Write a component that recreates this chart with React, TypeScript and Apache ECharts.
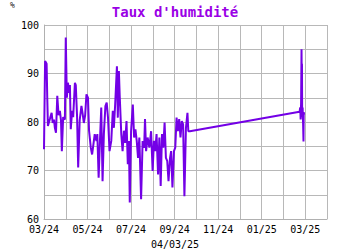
import React, { useEffect, useRef } from "react";
import * as echarts from "echarts";

// x = months since 03/24 (fractional), y = humidity %
const monthLabels = ["03/24","04/24","05/24","06/24","07/24","08/24","09/24","10/24","11/24","12/24","01/25","02/25","03/25","04/25"];

const monthPos = [
  0, 0.05, 0.12, 0.15, 0.18, 0.27, 0.35, 0.40, 0.46, 0.50, 0.55, 0.61, 0.67, 0.73, 0.78, 0.82, 0.88, 0.96,
  1.00, 1.05, 1.10, 1.16, 1.19, 1.23, 1.29, 1.34, 1.42, 1.46, 1.52, 1.57, 1.64, 1.72, 1.77, 1.83, 1.89, 1.95, 2.02, 2.07,
  2.15, 2.21, 2.27, 2.33, 2.41, 2.45, 2.51, 2.57, 2.63, 2.69, 2.75, 2.82, 2.88, 2.94, 3.01, 3.09, 3.16, 3.21, 3.27, 3.35,
  3.39, 3.44, 3.48, 3.55, 3.61, 3.67, 3.73, 3.79, 3.85, 3.90, 3.94,
  4.00, 4.08, 4.14, 4.20, 4.26, 4.32, 4.38, 4.46, 4.53, 4.60, 4.64, 4.69, 4.76, 4.84, 4.92, 4.99, 5.05, 5.11, 5.17, 5.24,
  5.30, 5.36, 5.42, 5.48, 5.54, 5.60, 5.66, 5.72, 5.79, 5.84, 5.90, 5.97, 6.03, 6.09, 6.15, 6.21, 6.27, 6.33, 6.39, 6.45,
  6.52, 6.59, 6.63, 6.70,
  11.74, 11.77, 11.79, 11.81, 11.83, 11.84, 11.85, 11.86, 11.88, 11.90, 11.92, 11.93, 11.95
];

const humidity = [
  74.4, 92.6, 92, 85, 79.2, 80.6, 81.9, 79.8, 80.5, 78.8, 77.8, 85.4, 81.4, 82.3, 80.4, 74, 81, 80.5,
  97.4, 85, 88.1, 86, 87.6, 78.5, 82.3, 81, 88.1, 87.6, 81, 70.6, 80.4, 83.3, 81.9, 79.8, 81.4, 85.7, 85, 78.2,
  74.7, 73.3, 75.4, 77.5, 76.1, 77.5, 68.5, 76.1, 83, 67.8, 77.5, 83.3, 84, 80.9, 74, 76.1, 82.3, 78.8, 83.7, 91.5,
  80.9, 90.5, 85.2, 77.5, 74, 78.2, 75.7, 80.2, 71.3, 76.1, 63.4,
  78.1, 83.6, 76.8, 78.5, 76.1, 72.6, 76.8, 64.1, 76.1, 74.7, 80.6, 74, 76.8, 74.7, 78.1, 69.9, 76.1, 74, 77.5, 69.2,
  76.8, 66.8, 77.5, 74.7, 79.9, 72.6, 72, 67.8, 72.6, 74, 66.5, 74, 74.7, 80.9, 78.1, 80.6, 76.8, 80.2, 79.5, 64.7,
  78.8, 81.9, 78.1, 78.1,
  82.1, 83, 80.5, 84, 95, 88, 92, 81, 83, 80, 76, 82, 81.5
];

const yMin = 60;
const yMax = 100;

export default function App() {
  const ref = useRef<HTMLDivElement>(null);
  useEffect(() => {
    if (!ref.current) return;
    const chart = echarts.init(ref.current, null, { renderer: "svg" });
    const mono = "'DejaVu Sans Mono', monospace";
    chart.setOption({
      animation: false,
      backgroundColor: "#ffffff",
      title: {
        text: "Taux d'humidité",
        left: "center",
        top: 0,
        textStyle: { color: "#9a00e6", fontFamily: mono, fontWeight: "bold", fontSize: 14 },
      },
      graphic: [
        { type: "text", left: 10, top: 1, style: { text: "%", fontFamily: mono, fontSize: 8, fill: "#222" } },
        { type: "text", left: "center", top: 239, style: { text: "04/03/25", fontFamily: mono, fontSize: 10, fill: "#000" } },
      ],
      grid: { left: 44, right: 23, top: 25, bottom: 31 },
      xAxis: {
        type: "value",
        min: 0,
        max: monthLabels.length - 1,
        interval: 1,
        axisLine: { show: true, lineStyle: { color: "#b0b0b0" } },
        axisTick: { show: false },
        splitLine: { show: true, lineStyle: { color: "#b8b8b8", width: 1 } },
        axisLabel: {
          margin: 5,
          fontFamily: mono,
          fontSize: 10,
          color: "#000",
          showMaxLabel: true,
          formatter: (v: number) => (Math.round(v) % 2 === 0 ? monthLabels[Math.round(v)] : ""),
        },
      },
      yAxis: {
        type: "value",
        min: yMin,
        max: yMax,
        interval: 5,
        axisLine: { show: true, lineStyle: { color: "#b0b0b0" } },
        axisTick: { show: false },
        splitLine: { show: true, lineStyle: { color: "#b8b8b8", width: 1 } },
        axisLabel: {
          margin: 5,
          fontFamily: mono,
          fontSize: 10,
          color: "#000",
          formatter: (v: number) => (v % 10 === 0 ? String(v) : ""),
        },
      },
      series: [
        {
          type: "line",
          data: monthPos.map((m, i) => [m, humidity[i]]),
          showSymbol: false,
          lineStyle: { color: "#7300e6", width: 2 },
          itemStyle: { color: "#7300e6" },
        },
      ],
    });
    return () => chart.dispose();
  }, []);
  return <div ref={ref} style={{ position: "absolute", left: 0, top: 0, width: 350, height: 250 }} />;
}
